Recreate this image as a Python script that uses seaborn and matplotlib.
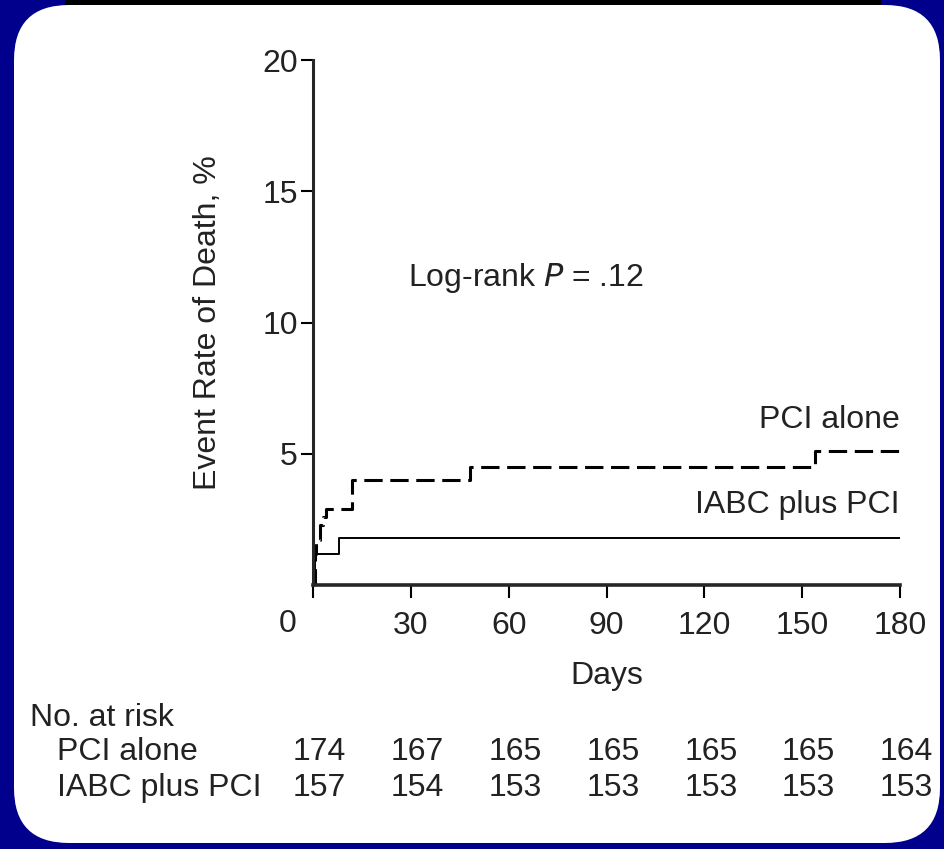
import numpy as np
import pandas as pd
import matplotlib.pyplot as plt
import matplotlib.transforms as mtransforms
from matplotlib.patches import FancyBboxPatch, Rectangle
import seaborn as sns

# step curves (day, cumulative event rate %)
pci_days = [0, 0.5, 1, 2, 3, 4, 12, 48, 154, 180]
pci_rate = [0, 1.2, 1.7, 2.3, 2.6, 2.9, 4.0, 4.5, 5.1, 5.1]
iabc_days = [0, 0.5, 8, 180]
iabc_rate = [0, 1.2, 1.8, 1.8]

risk_days = [0, 30, 60, 90, 120, 150, 180]
risk_pci = [174, 167, 165, 165, 165, 165, 164]
risk_iabc = [157, 154, 153, 153, 153, 153, 153]

x_ticks = [0, 30, 60, 90, 120, 150, 180]
y_ticks = [5, 10, 15, 20]

sns.set_style('ticks')
plt.rcParams['font.family'] = ['Liberation Sans', 'DejaVu Sans']
txt = '#222222'
fs = 23

fig = plt.figure(figsize=(9.44, 8.49), dpi=100, facecolor='#00008c')
# white rounded panel (pixel coordinates)
px = mtransforms.IdentityTransform()
fig.patches.append(Rectangle((65, 845), 815, 4, transform=px, color='black', zorder=-3))
fig.patches.append(FancyBboxPatch((14 + 55, 6 + 55), 926 - 110, 838 - 110,
                                  boxstyle='round,pad=55', transform=px,
                                  facecolor='white', edgecolor='none', zorder=-2))

ax = fig.add_axes([313 / 944, 1 - 585 / 849, 587 / 944, 525 / 849])
ax.set_facecolor('none')

pci = pd.DataFrame({'day': pci_days, 'rate': pci_rate})
iabc = pd.DataFrame({'day': iabc_days, 'rate': iabc_rate})
sns.lineplot(data=pci, x='day', y='rate', ax=ax, color='black', lw=2.2,
             drawstyle='steps-post', linestyle=(0, (6, 2.5)))
sns.lineplot(data=iabc, x='day', y='rate', ax=ax, color='black', lw=1.4,
             drawstyle='steps-post')

ax.set_xlim(0, 180)
ax.set_ylim(0, 20)
ax.set_xticks(x_ticks)
ax.set_xticklabels([''] + [str(t) for t in x_ticks[1:]])
ax.set_yticks(y_ticks)
ax.tick_params(axis='both', length=9, width=1.5, labelsize=fs, colors='black',
               labelcolor=txt, pad=2)
ax.tick_params(axis='x', pad=10)
for s in ['top', 'right']:
    ax.spines[s].set_visible(False)
ax.spines['left'].set_linewidth(2.2)
ax.spines['bottom'].set_linewidth(2.6)

ax.set_xlabel('Days', fontsize=fs, color=txt, labelpad=14)
ax.set_ylabel('Event Rate of Death, %', fontsize=fs, color=txt, labelpad=28)

ax.text(-5, -0.9, '0', fontsize=fs, color=txt, ha='right', va='top')
ax.text(29, 11.7, 'Log-rank $\\it{P}$ = .12', fontsize=fs, color=txt, va='center')
ax.text(180, 6.3, 'PCI alone', fontsize=fs, color=txt, ha='right', va='center')
ax.text(180, 3.05, 'IABC plus PCI', fontsize=fs, color=txt, ha='right', va='center')

# number at risk table
tr = mtransforms.blended_transform_factory(ax.transData, fig.transFigure)
fig.text(30 / 944, 1 - 718 / 849, 'No. at risk', fontsize=fs, color=txt, va='center')
fig.text(57 / 944, 1 - 752 / 849, 'PCI alone', fontsize=fs, color=txt, va='center')
fig.text(57 / 944, 1 - 788 / 849, 'IABC plus PCI', fontsize=fs, color=txt, va='center')
for d, a, b in zip(risk_days, risk_pci, risk_iabc):
    ax.text(d + 2, 1 - 752 / 849, str(a), transform=tr, fontsize=fs, color=txt,
            ha='center', va='center', clip_on=False)
    ax.text(d + 2, 1 - 788 / 849, str(b), transform=tr, fontsize=fs, color=txt,
            ha='center', va='center', clip_on=False)

fig.savefig('out.png', dpi=100, facecolor=fig.get_facecolor())
